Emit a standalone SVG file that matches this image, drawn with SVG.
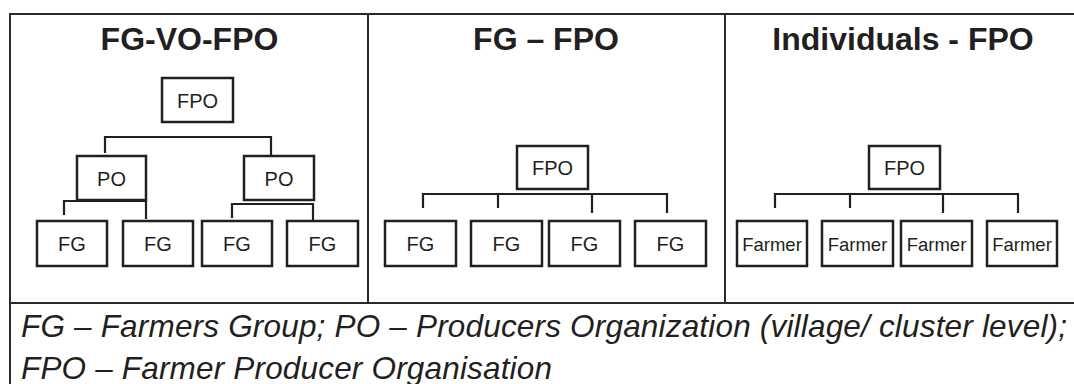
<svg xmlns="http://www.w3.org/2000/svg" width="1074" height="384" viewBox="0 0 1074 384">
  <style>
    .frame { fill: none; stroke: #2b2b2b; stroke-width: 2; }
    .box { fill: #ffffff; stroke: #231f20; stroke-width: 2.5; }
    .wire { fill: none; stroke: #231f20; stroke-width: 2.2; }
    .title { font-family: "Liberation Sans", Arial, sans-serif; font-weight: bold; font-size: 32px; fill: #231f20; text-anchor: middle; }
    .lbl { font-family: "Liberation Sans", Arial, sans-serif; font-size: 20px; fill: #231f20; text-anchor: middle; }
    .lbl-sm { font-family: "Liberation Sans", Arial, sans-serif; font-size: 18.5px; fill: #231f20; text-anchor: middle; }
    .legend { font-family: "Liberation Sans", Arial, sans-serif; font-style: italic; font-size: 31.5px; fill: #231f20; }
  </style>
  <rect width="1074" height="384" fill="#ffffff"/>

  <!-- table frame -->
  <g id="frame">
    <path class="frame" d="M10 384 V14 H1074"/>
    <path class="frame" d="M10 303 H1074"/>
    <path class="frame" d="M368 14 V303"/>
    <path class="frame" d="M725 14 V303"/>
  </g>

  <!-- column headings -->
  <g id="titles">
    <text class="title" x="189.5" y="50">FG-VO-FPO</text>
    <text class="title" x="546" y="50">FG – FPO</text>
    <text class="title" x="903" y="50">Individuals - FPO</text>
  </g>

  <!-- connectors -->
  <g id="connectors">
    <!-- FG-VO-FPO -->
    <path class="wire" d="M105 153 V137 H271 V155"/>
    <path class="wire" d="M64 215 V201 H146 V219" stroke-width="3"/>
    <path class="wire" d="M232 218 V204 H313 V220"/>
    <!-- FG - FPO -->
    <path class="wire" d="M423 208 V194 H667 V213"/>
    <path class="wire" d="M498 194 V208"/>
    <path class="wire" d="M592 194 V213"/>
    <!-- Individuals - FPO -->
    <path class="wire" d="M775 208 V194 H1018 V213"/>
    <path class="wire" d="M850 194 V208"/>
    <path class="wire" d="M943 194 V213"/>
  </g>

  <!-- FG-VO-FPO nodes -->
  <g id="c1-fpo"><rect class="box" x="162" y="78" width="71" height="44"/><text class="lbl" x="197.5" y="107.5">FPO</text></g>
  <g id="c1-po1"><rect class="box" x="77" y="156" width="69" height="44"/><text class="lbl" x="111.5" y="185.5">PO</text></g>
  <g id="c1-po2"><rect class="box" x="244" y="156" width="70" height="44"/><text class="lbl" x="279" y="185.5">PO</text></g>
  <g id="c1-fg1"><rect class="box" x="37" y="221" width="70" height="45"/><text class="lbl" x="72" y="250.5">FG</text></g>
  <g id="c1-fg2"><rect class="box" x="123" y="221" width="70" height="45"/><text class="lbl" x="158" y="250.5">FG</text></g>
  <g id="c1-fg3"><rect class="box" x="202" y="221" width="70" height="45"/><text class="lbl" x="237" y="250.5">FG</text></g>
  <g id="c1-fg4"><rect class="box" x="287" y="221" width="71" height="45"/><text class="lbl" x="322.5" y="250.5">FG</text></g>

  <!-- FG - FPO nodes -->
  <g id="c2-fpo"><rect class="box" x="517" y="146" width="71" height="43"/><text class="lbl" x="552.5" y="174.5">FPO</text></g>
  <g id="c2-fg1"><rect class="box" x="385" y="221" width="71" height="45"/><text class="lbl" x="420.5" y="250.5">FG</text></g>
  <g id="c2-fg2"><rect class="box" x="471" y="221" width="71" height="45"/><text class="lbl" x="506.5" y="250.5">FG</text></g>
  <g id="c2-fg3"><rect class="box" x="549" y="221" width="71" height="45"/><text class="lbl" x="584.5" y="250.5">FG</text></g>
  <g id="c2-fg4"><rect class="box" x="635" y="221" width="71" height="45"/><text class="lbl" x="670.5" y="250.5">FG</text></g>

  <!-- Individuals - FPO nodes -->
  <g id="c3-fpo"><rect class="box" x="869" y="146" width="71" height="43"/><text class="lbl" x="904.5" y="174.5">FPO</text></g>
  <g id="c3-f1"><rect class="box" x="737" y="221" width="70" height="45"/><text class="lbl-sm" x="772" y="250.5">Farmer</text></g>
  <g id="c3-f2"><rect class="box" x="822" y="221" width="71" height="45"/><text class="lbl-sm" x="857.5" y="250.5">Farmer</text></g>
  <g id="c3-f3"><rect class="box" x="901" y="221" width="71" height="45"/><text class="lbl-sm" x="936.5" y="250.5">Farmer</text></g>
  <g id="c3-f4"><rect class="box" x="987" y="221" width="70" height="45"/><text class="lbl-sm" x="1022" y="250.5">Farmer</text></g>

  <!-- abbreviations -->
  <g id="legend">
    <text class="legend" x="21" y="337" textLength="1046" lengthAdjust="spacing">FG – Farmers Group; PO – Producers Organization (village/ cluster level);</text>
    <text class="legend" x="21" y="379" textLength="531" lengthAdjust="spacing">FPO – Farmer Producer Organisation</text>
  </g>
</svg>
